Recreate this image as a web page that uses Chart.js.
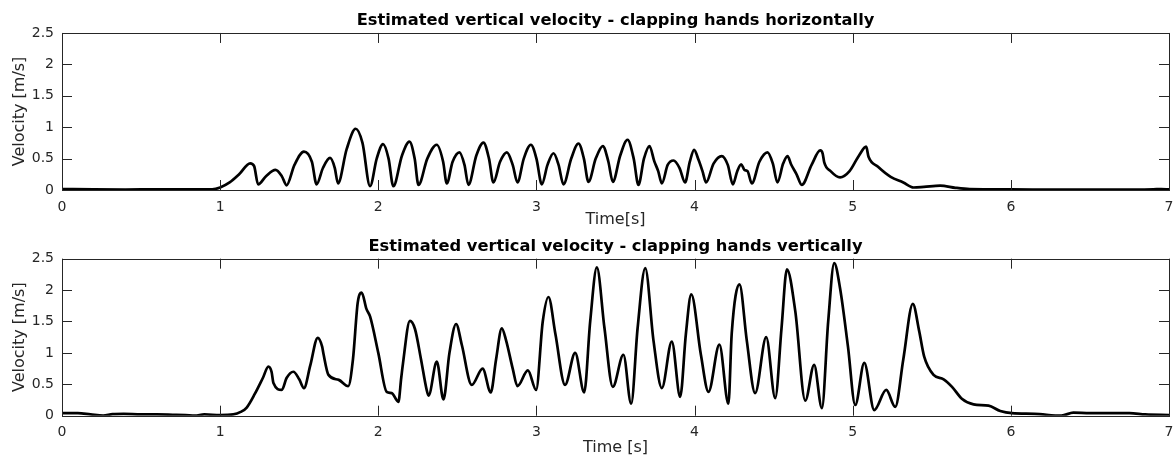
<!DOCTYPE html>
<html>
<head>
<meta charset="utf-8">
<title>Estimated vertical velocity</title>
<script src="https://cdn.jsdelivr.net/npm/chart.js@4.4.1/dist/chart.umd.min.js"></script>
<style>
  html, body { margin: 0; padding: 0; background: #fff; }
  #wrap { position: relative; width: 1176px; height: 457px; }
  .box { position: absolute; left: 0; width: 1176px; }
  #box1 { top: 0; height: 229px; }
  #box2 { top: 229px; height: 228px; }
</style>
</head>
<body>
<div id="wrap">
  <div class="box" id="box1"><canvas id="chartTop"></canvas></div>
  <div class="box" id="box2"><canvas id="chartBottom"></canvas></div>
</div>
<script>
// ==================== DATA ====================
// Top: clapping hands horizontally
const timeHoriz = [
  0, 0.2, 0.4, 0.6, 0.8, 0.95, 1.0, 1.06, 1.12, 1.19, 1.215, 1.24, 1.29, 1.35, 1.39, 1.42,
  1.47, 1.53, 1.58, 1.61, 1.65, 1.695, 1.725, 1.745, 1.8, 1.857, 1.9, 1.948, 1.99, 2.03,
  2.065, 2.095, 2.15, 2.197, 2.23, 2.254, 2.31, 2.37, 2.41, 2.433, 2.47, 2.513, 2.545,
  2.57, 2.62, 2.665, 2.7, 2.728, 2.77, 2.813, 2.85, 2.88, 2.92, 2.965, 3.0, 3.034, 3.07,
  3.108, 3.14, 3.171, 3.22, 3.266, 3.3, 3.329, 3.375, 3.42, 3.455, 3.483, 3.53, 3.576,
  3.615, 3.645, 3.68, 3.715, 3.745, 3.77, 3.793, 3.83, 3.867, 3.905, 3.94, 3.97, 3.997,
  4.025, 4.05, 4.073, 4.12, 4.172, 4.21, 4.242, 4.27, 4.295, 4.315, 4.335, 4.362, 4.41,
  4.461, 4.495, 4.524, 4.56, 4.588, 4.61, 4.645, 4.678, 4.74, 4.795, 4.81, 4.82, 4.86,
  4.92, 4.98, 5.04, 5.085, 5.1, 5.16, 5.24, 5.32, 5.385, 5.45, 5.553, 5.65, 5.74, 6.0,
  6.3, 6.6, 6.9, 6.95, 7.0
];
const velHoriz = [
  0.015, 0.01, 0.008, 0.01, 0.01, 0.01, 0.04, 0.12, 0.25, 0.425, 0.38, 0.09, 0.22, 0.32, 0.22, 0.075,
  0.4, 0.61, 0.45, 0.09, 0.35, 0.51, 0.35, 0.105, 0.65, 0.975, 0.75, 0.06, 0.5, 0.73,
  0.5, 0.06, 0.55, 0.77, 0.5, 0.08, 0.5, 0.72, 0.45, 0.105, 0.45, 0.6, 0.4,
  0.08, 0.55, 0.755, 0.5, 0.12, 0.45, 0.6, 0.4, 0.12, 0.5, 0.72, 0.5, 0.09, 0.4,
  0.585, 0.4, 0.09, 0.5, 0.74, 0.5, 0.13, 0.5, 0.7, 0.45, 0.13, 0.55, 0.8,
  0.5, 0.08, 0.5, 0.7, 0.46, 0.3, 0.105, 0.4, 0.47, 0.35, 0.12, 0.45, 0.64,
  0.48, 0.3, 0.12, 0.42, 0.54, 0.4, 0.09, 0.3, 0.41, 0.32, 0.3, 0.105, 0.45,
  0.6, 0.42, 0.12, 0.42, 0.54, 0.41, 0.25, 0.08, 0.4, 0.63, 0.58, 0.44, 0.3,
  0.2, 0.3, 0.55, 0.69, 0.53, 0.37, 0.21, 0.12, 0.04, 0.05, 0.07, 0.035, 0.015, 0.01,
  0.005, 0.005, 0.01, 0.015, 0.01
];

// Bottom: clapping hands vertically
const timeVert = [
  0, 0.1, 0.18, 0.26, 0.32, 0.39, 0.5, 0.6, 0.7, 0.78, 0.84, 0.9, 1.0, 1.083, 1.13, 1.168,
  1.22, 1.27, 1.305, 1.325, 1.337, 1.39, 1.42, 1.463, 1.5, 1.53, 1.57, 1.617, 1.645, 1.653,
  1.685, 1.75, 1.81, 1.84, 1.87, 1.895, 1.925, 1.948, 2.0, 2.053, 2.085, 2.127, 2.145, 2.155,
  2.2, 2.232, 2.27, 2.306, 2.318, 2.37, 2.412, 2.45, 2.492, 2.528, 2.591, 2.66, 2.711, 2.745,
  2.781, 2.808, 2.85, 2.88, 2.946, 2.998, 3.04, 3.076, 3.12, 3.181, 3.245, 3.302, 3.34, 3.382,
  3.43, 3.483, 3.55, 3.599, 3.64, 3.688, 3.74, 3.793, 3.856, 3.909, 3.945, 3.979, 4.04, 4.088,
  4.157, 4.214, 4.235, 4.284, 4.33, 4.383, 4.453, 4.51, 4.55, 4.584, 4.637, 4.7, 4.756, 4.805,
  4.845, 4.883, 4.92, 4.97, 5.016, 5.073, 5.136, 5.212, 5.269, 5.32, 5.38, 5.42, 5.452, 5.511,
  5.575, 5.628, 5.69, 5.764, 5.859, 5.933, 6.007, 6.15, 6.32, 6.395, 6.5, 6.6, 6.75, 6.85, 7.0
];
const velVert = [
  0.04, 0.04, 0.02, 0.0, 0.025, 0.03, 0.02, 0.02, 0.015, 0.01, 0.0, 0.02, 0.01, 0.02, 0.06, 0.13,
  0.35, 0.6, 0.78, 0.7, 0.52, 0.41, 0.6, 0.7, 0.58, 0.44, 0.8, 1.24, 1.1, 0.99,
  0.65, 0.57, 0.47, 0.9, 1.8, 1.96, 1.7, 1.58, 1.0, 0.38, 0.36, 0.22, 0.6, 0.81,
  1.51, 1.38, 0.9, 0.41, 0.32, 0.86, 0.26, 1.0, 1.46, 1.13, 0.49, 0.75, 0.37, 0.9,
  1.39, 1.2, 0.75, 0.47, 0.72, 0.41, 1.5, 1.89, 1.3, 0.49, 1.0, 0.37, 1.5, 2.36,
  1.4, 0.46, 0.97, 0.19, 1.4, 2.35, 1.2, 0.44, 1.18, 0.3, 1.3, 1.93, 0.97, 0.38,
  1.13, 0.19, 1.31, 2.09, 1.2, 0.36, 1.25, 0.28, 1.4, 2.33, 1.66, 0.24, 0.81, 0.12,
  1.5, 2.43, 2.03, 1.1, 0.17, 0.84, 0.09, 0.41, 0.14, 0.9, 1.78, 1.35, 0.94, 0.65,
  0.58, 0.46, 0.27, 0.18, 0.16, 0.075, 0.04, 0.03, 0.0, 0.05, 0.04, 0.04, 0.04, 0.02, 0.01
];

const xTicks = [0, 1, 2, 3, 4, 5, 6, 7];
const yTicks = [0, 0.5, 1, 1.5, 2, 2.5];

const AXIS_COLOR = "#262626";
const FONT = "DejaVu Sans";

// Matlab style box with inward ticks on all four sides
const boxTicks = {
  id: "boxTicks",
  afterDraw(chart) {
    const { ctx, chartArea: a, scales } = chart;
    const len = 10;
    ctx.save();
    ctx.strokeStyle = AXIS_COLOR;
    ctx.lineWidth = 1;
    ctx.beginPath();
    xTicks.forEach((t) => {
      const px = Math.round(scales.x.getPixelForValue(t)) + 0.5;
      ctx.moveTo(px, a.bottom);
      ctx.lineTo(px, a.bottom - len);
      ctx.moveTo(px, a.top);
      ctx.lineTo(px, a.top + len);
    });
    yTicks.forEach((v) => {
      const py = Math.round(scales.y.getPixelForValue(v)) + 0.5;
      ctx.moveTo(a.left, py);
      ctx.lineTo(a.left + len, py);
      ctx.moveTo(a.right, py);
      ctx.lineTo(a.right - len, py);
    });
    ctx.stroke();
    ctx.strokeRect(
      Math.round(a.left) + 0.5,
      Math.round(a.top) + 0.5,
      Math.round(a.right - a.left),
      Math.round(a.bottom - a.top)
    );
    ctx.restore();
  },
};

function toPoints(times, values) {
  return times.map((t, i) => ({ x: t, y: values[i] }));
}

function makeChart(canvasId, cfg) {
  return new Chart(document.getElementById(canvasId), {
    type: "line",
    data: {
      datasets: [
        {
          data: toPoints(cfg.times, cfg.values),
          borderColor: "#000",
          borderWidth: 2.7,
          pointRadius: 0,
          cubicInterpolationMode: "monotone",
          fill: false,
        },
      ],
    },
    options: {
      responsive: true,
      maintainAspectRatio: false,
      animation: false,
      layout: { padding: { left: 0, right: 7, top: 0, bottom: 0 } },
      plugins: {
        legend: { display: false },
        tooltip: { enabled: false },
        title: {
          display: true,
          fullSize: false,
          text: cfg.title,
          color: "#000",
          font: { family: FONT, size: 16.3, weight: "bold", lineHeight: 1.2 },
          padding: cfg.titlePadding,
        },
      },
      scales: {
        x: {
          type: "linear",
          min: 0,
          max: 7,
          grid: { display: false, drawTicks: false },
          border: { display: false },
          afterBuildTicks: (scale) => {
            scale.ticks = xTicks.map((v) => ({ value: v }));
          },
          afterFit: (scale) => {
            scale.height = cfg.xHeight;
            scale.paddingLeft = 0;
            scale.paddingRight = 0;
          },
          ticks: {
            color: AXIS_COLOR,
            padding: 8.5,
            maxRotation: 0,
            font: { family: FONT, size: 14 },
            callback: (v) => String(v),
          },
          title: {
            display: true,
            text: cfg.xLabel,
            color: AXIS_COLOR,
            font: { family: FONT, size: 16, lineHeight: 1.2 },
            padding: { top: 0, bottom: cfg.xTitleBottom },
          },
        },
        y: {
          min: 0,
          max: 2.5,
          grid: { display: false, drawTicks: false },
          border: { display: false },
          afterBuildTicks: (scale) => {
            scale.ticks = yTicks.map((v) => ({ value: v }));
          },
          afterFit: (scale) => {
            scale.width = 62;
            scale.paddingTop = 0;
            scale.paddingBottom = 0;
          },
          ticks: {
            color: AXIS_COLOR,
            padding: 8,
            font: { family: FONT, size: 14 },
            callback: (v) => String(v),
          },
          title: {
            display: true,
            text: "Velocity [m/s]",
            color: AXIS_COLOR,
            font: { family: FONT, size: 16, lineHeight: 1.2 },
            padding: { top: 10.5, bottom: 0 },
          },
        },
      },
    },
    plugins: [boxTicks],
  });
}

// ===== TOP CHART =====
makeChart("chartTop", {
  times: timeHoriz,
  values: velHoriz,
  title: "Estimated vertical velocity - clapping hands horizontally",
  titlePadding: { top: 11.4, bottom: 2.0 },
  xLabel: "Time[s]",
  xHeight: 39,
  xTitleBottom: 0,
});

// ===== BOTTOM CHART =====
makeChart("chartBottom", {
  times: timeVert,
  values: velVert,
  title: "Estimated vertical velocity - clapping hands vertically",
  titlePadding: { top: 7.9, bottom: 2.2 },
  xLabel: "Time [s]",
  xHeight: 41.3,
  xTitleBottom: 0,
});
</script>
</body>
</html>
